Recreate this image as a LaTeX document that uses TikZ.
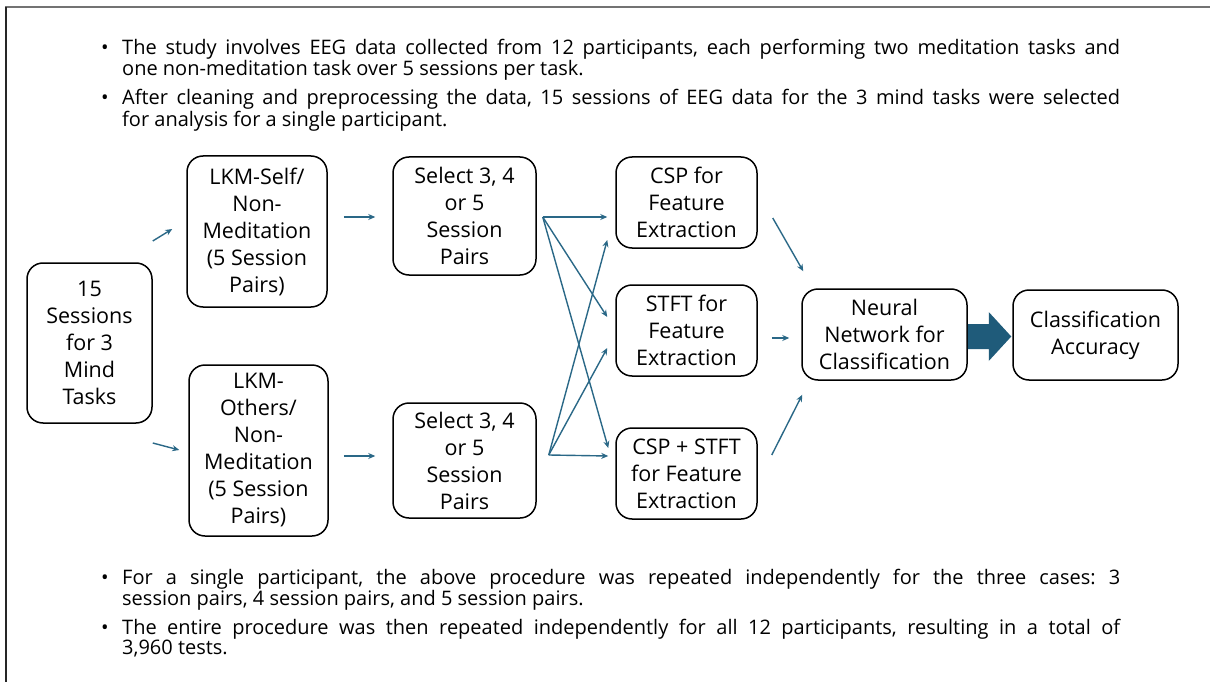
\documentclass[tikz,border=0pt]{standalone}
\usepackage{fontspec}
\setmainfont{Open Sans}
\usetikzlibrary{arrows.meta,calc}
\definecolor{arrowc}{RGB}{42,104,135}
\definecolor{bigc}{RGB}{31,91,122}
\frenchspacing
\begin{document}
\begin{tikzpicture}[x=1pt,y=-1pt,
  box/.style={draw=black,line width=1.5pt,rounded corners=16pt,align=center,inner sep=0pt,font=\fontsize{21.5}{27}\selectfont},
  arr/.style={draw=arrowc,line width=1.4pt,-{Stealth[length=7pt,width=6pt]}},
  para/.style={anchor=base west,inner sep=0pt,text width=998pt,align=justify,font=\fontsize{20}{18.5}\selectfont},
  bullet/.style={anchor=base west,inner sep=0pt,font=\fontsize{20}{18.5}\selectfont}]
\useasboundingbox[fill=white] (0,0) rectangle (1210,682);
% frame
\draw[black!55,line width=1.5pt] (5,7) -- (1210,7);
\draw[black!85,line width=1.2pt] (6,7) -- (6,682);
% paragraphs
\node[bullet] (b1) at (101,55) {\textbullet};
\node[para] (p1) at (122,55) {\frenchspacing The study involves EEG data collected from 12 participants, each performing two meditation tasks and\linebreak one non-meditation task over 5 sessions per task.};
\node[bullet] (b2) at (101,105) {\textbullet};
\node[para] (p2) at (122,105) {\frenchspacing After cleaning and preprocessing the data, 15 sessions of EEG data for the 3 mind tasks were selected\linebreak for analysis for a single participant.};
\node[bullet] (b3) at (101,584) {\textbullet};
\node[para] (p3) at (122,584) {\frenchspacing For a single participant, the above procedure was repeated independently for the three cases: 3\linebreak session pairs, 4 session pairs, and 5 session pairs.};
\node[bullet] (b4) at (101,634) {\textbullet};
\node[para] (p4) at (122,634) {\frenchspacing The entire procedure was then repeated independently for all 12 participants, resulting in a total of\linebreak 3,960 tests.};
% boxes
\node[box,minimum width=125pt,minimum height=160pt] (A) at (89.5,343) {15\\Sessions\\for 3\\Mind\\Tasks};
\node[box,minimum width=140pt,minimum height=151pt] (B) at (257,231.5) {LKM-Self/\\Non-\\Meditation\\(5 Session\\Pairs)};
\node[box,minimum width=139pt,minimum height=171pt] (C) at (258.5,450.5) {LKM-\\Others/\\Non-\\Meditation\\(5 Session\\Pairs)};
\node[box,minimum width=143pt,minimum height=118pt] (D) at (464.5,216) {Select 3, 4\\or 5\\Session\\Pairs};
\node[box,minimum width=143pt,minimum height=115pt] (E) at (464.5,460.5) {Select 3, 4\\or 5\\Session\\Pairs};
\node[box,minimum width=141pt,minimum height=91pt] (F) at (686.5,202.5) {CSP for\\Feature\\Extraction};
\node[box,minimum width=141pt,minimum height=91pt] (G) at (686.5,330.5) {STFT for\\Feature\\Extraction};
\node[box,minimum width=141pt,minimum height=91pt] (H) at (686.5,473.5) {CSP + STFT\\for Feature\\Extraction};
\node[box,minimum width=165pt,minimum height=91pt] (I) at (884.5,334.5) {Neural\\Network for\\Classification};
\node[box,minimum width=165pt,minimum height=90pt] (J) at (1095.5,335) {Classification\\Accuracy};
% connectors
\draw[arr] ($(A.east)+(0,-102)$) -- ($(B.west)+(-14,-2.5)$);
\draw[arr] ($(A.east)+(0,100)$) -- ($(C.west)+(-9,-0.5)$);
\draw[arr] ($(B.east)+(16,-14.5)$) -- ($(D.west)+(-17,1)$);
\draw[arr] ($(C.east)+(15,5.5)$) -- ($(E.west)+(-17,-4.5)$);
\draw[arr] ($(D.east)+(6,1)$) -- ($(F.west)+(-8,14.5)$);
\draw[arr] ($(D.east)+(6,1)$) -- ($(G.west)+(-8,-13.5)$);
\draw[arr] ($(D.east)+(6,1)$) -- ($(H.west)+(-7,-25.5)$);
\draw[arr] ($(E.east)+(12,-5.5)$) -- ($(F.west)+(-8,37.5)$);
\draw[arr] ($(E.east)+(12,-5.5)$) -- ($(G.west)+(-8,17.5)$);
\draw[arr] ($(E.east)+(12,-5.5)$) -- ($(H.west)+(-7,-17.5)$);
\draw[arr] ($(F.east)+(15,15.5)$) -- ($(I.north west)+(2,-17)$);
\draw[arr] ($(G.east)+(14,7.5)$) -- ($(I.west)+(-12,3.5)$);
\draw[arr] ($(H.east)+(14,-18.5)$) -- ($(I.south west)+(1,14)$);
% big arrow
\fill[bigc] ($(I.east)+(0,-10.5)$) -- ($(I.east)+(21,-10.5)$) -- ($(I.east)+(21,-22.5)$) -- ($(J.west)+(-1,1.5)$) -- ($(I.east)+(21,26.5)$) -- ($(I.east)+(21,14.5)$) -- ($(I.east)+(0,14.5)$) -- cycle;
\end{tikzpicture}
\end{document}
